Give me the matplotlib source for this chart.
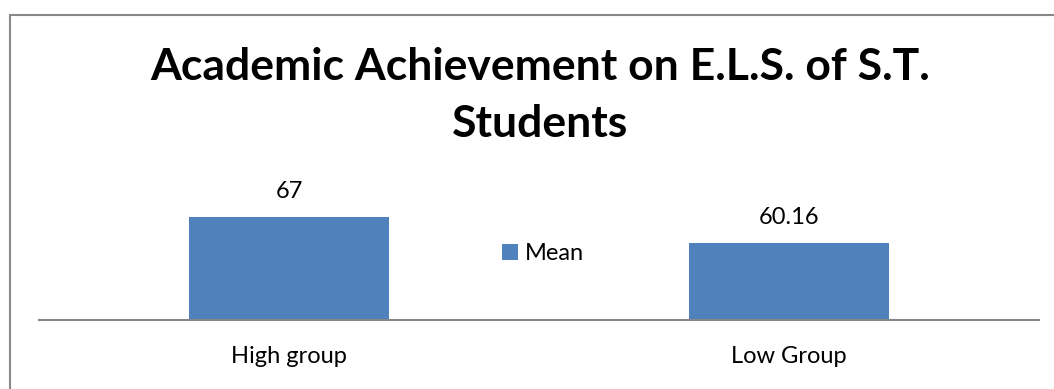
import matplotlib.pyplot as plt
from matplotlib.patches import Rectangle

categories = ['High group', 'Low Group']
mean_values = [67, 60.16]
value_labels = ['67', '60.16']
series_name = 'Mean'
title_lines = ['Academic Achievement on E.L.S. of S.T.', 'Students']

plt.rcParams['font.family'] = ['Lato', 'DejaVu Sans']

fig = plt.figure(figsize=(10.54, 3.89), dpi=100)

# chart border (cut off at right and bottom like the source)
fig.patches.append(Rectangle((9.5 / 1054, -0.1), 1.2, 1 - 14.5 / 389 + 0.1,
                             transform=fig.transFigure, fill=False,
                             edgecolor='#898989', linewidth=1.5))

ax = fig.add_axes([39 / 1054, 1 - 319.5 / 389, 1000 / 1054, 113.5 / 389])
x = range(len(categories))
bars = ax.bar(x, mean_values, width=0.4, color='#4F81BD', label=series_name)
ax.set_xlim(-0.5, 1.5)
ax.set_ylim(40, 70)

for rect, lab in zip(bars, value_labels):
    ax.annotate(lab, (rect.get_x() + rect.get_width() / 2, rect.get_height()),
                xytext=(0, 14), textcoords='offset points',
                ha='center', va='baseline', fontsize=17, annotation_clip=False)

ax.set_xticks(list(x))
ax.set_xticklabels(categories, fontsize=17)
ax.tick_params(axis='x', length=0, pad=19)
ax.set_yticks([])
for s in ['top', 'right', 'left']:
    ax.spines[s].set_visible(False)
ax.spines['bottom'].set_color('#868686')
ax.spines['bottom'].set_linewidth(1.5)

fig.legend(handles=[bars], labels=[series_name], loc='center',
           bbox_to_anchor=(543 / 1054, 1 - 254 / 389), frameon=False,
           fontsize=17, handlelength=0.65, handleheight=0.65, handletextpad=0.3)

for line, base in zip(title_lines, [80, 137]):
    fig.text(540 / 1054, 1 - base / 389, line, ha='center', va='baseline',
             fontsize=32, fontweight='bold')

fig.savefig('out.png', dpi=100)
